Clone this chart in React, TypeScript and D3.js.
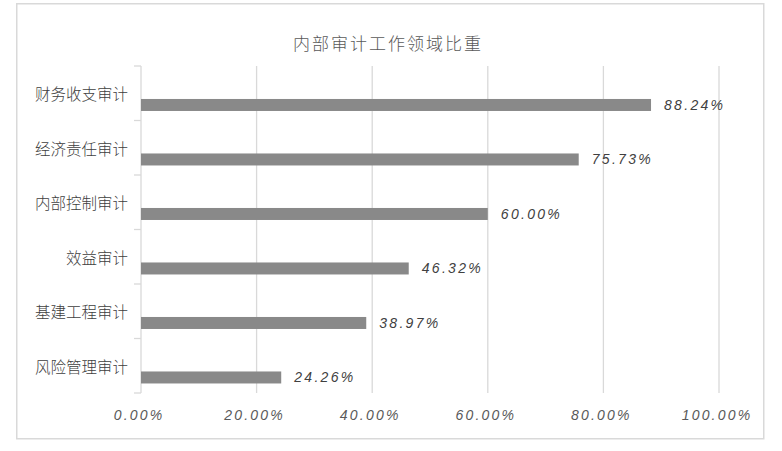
import { scaleBand, scaleLinear } from "d3";

const categories = ["财务收支审计", "经济责任审计", "内部控制审计", "效益审计", "基建工程审计", "风险管理审计"];
const values = [88.24, 75.73, 60.0, 46.32, 38.97, 24.26];
const tickValues = [0, 20, 40, 60, 80, 100];
const title = "内部审计工作领域比重";

const width = 782;
const height = 451;
const plot = { left: 141, right: 719, top: 66, bottom: 393 };

export default function App() {
  const xScale = scaleLinear().domain([0, 100]).range([plot.left, plot.right]);
  const yScale = scaleBand().domain(categories).range([plot.top, plot.bottom]);
  const bw = yScale.bandwidth();
  // bar sits in the lower part of each band (second series slot)
  const barOffset = bw * 0.605;
  const barH = 12;

  return (
    <svg width={width} height={height} style={{ position: "absolute", left: 0, top: 0 }}>
      <rect x={0} y={0} width={width} height={height} fill="#fff" />
      <rect x={16.75} y={3.75} width={747} height={435} fill="none" stroke="#d9d9d9" strokeWidth={1.5} />
      <text
        x={388}
        y={42}
        textAnchor="middle"
        dominantBaseline="central"
        fontFamily="'Noto Sans CJK SC'"
        fontSize={17}
        fontWeight={300}
        letterSpacing={2}
        fill="#595959"
      >
        {title}
      </text>
      {tickValues.map((t) => (
        <g key={t}>
          <line x1={xScale(t)} x2={xScale(t)} y1={plot.top} y2={plot.bottom} stroke="#d9d9d9" strokeWidth={1.3} />
          <text
            x={xScale(t) - 2}
            y={415}
            textAnchor="middle"
            dominantBaseline="central"
            fontFamily="'Liberation Sans'"
            fontStyle="italic"
            fontSize={14}
            letterSpacing={2.2}
            fill="#595959"
          >
            {t.toFixed(2)}%
          </text>
        </g>
      ))}
      {categories.map((c) => (
        <line key={c} x1={134} x2={141} y1={yScale(c) ?? 0} y2={yScale(c) ?? 0} stroke="#d9d9d9" strokeWidth={1.3} />
      ))}
      <line x1={134} x2={141} y1={plot.bottom} y2={plot.bottom} stroke="#d9d9d9" strokeWidth={1.3} />
      {categories.map((c, i) => {
        const y0 = yScale(c) ?? 0;
        return (
          <g key={c}>
            <text
              x={128}
              y={y0 + bw / 2}
              textAnchor="end"
              dominantBaseline="central"
              fontFamily="'Noto Sans CJK SC'"
              fontSize={15.5}
              fontWeight={300}
              fill="#404040"
            >
              {c}
            </text>
            <rect x={xScale(0)} y={y0 + barOffset} width={xScale(values[i]) - xScale(0)} height={barH} fill="#898989" />
            <text
              x={xScale(values[i]) + 13}
              y={y0 + barOffset + barH / 2}
              dominantBaseline="central"
              fontFamily="'Liberation Sans'"
              fontStyle="italic"
              fontSize={14}
              letterSpacing={2.3}
              fill="#404040"
            >
              {values[i].toFixed(2)}%
            </text>
          </g>
        );
      })}
    </svg>
  );
}
